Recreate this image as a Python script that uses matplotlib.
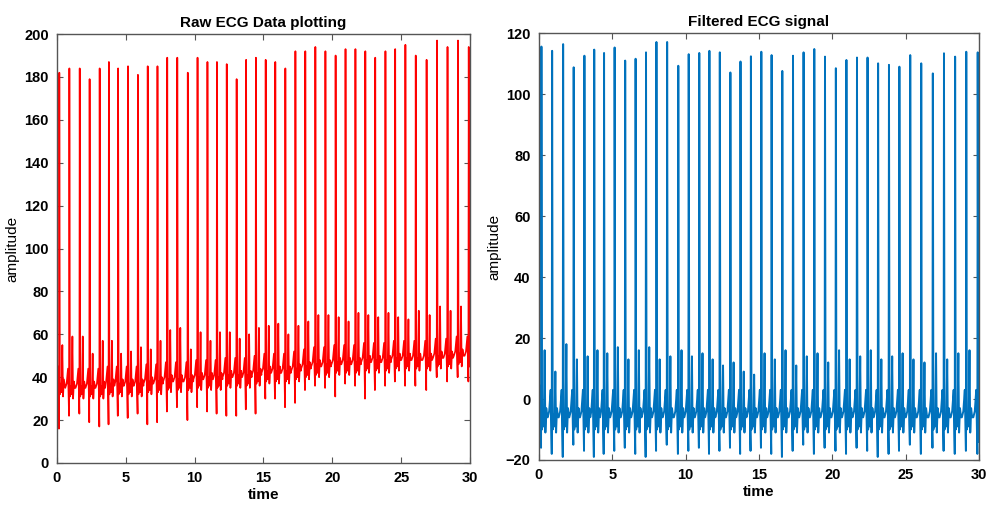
import numpy as np
import matplotlib
matplotlib.use("Agg")
import matplotlib.pyplot as plt

plt.rcParams['font.family'] = ['Liberation Sans', 'DejaVu Sans']

# beat (R peak) times in seconds
beat_t = [0.17, 0.90, 1.65, 2.37, 3.10, 3.77, 4.44, 5.16, 5.88, 6.59, 7.30, 8.01,
          8.74, 9.50, 10.21, 10.93, 11.62, 12.33, 13.05, 13.74, 14.45, 15.16,
          15.86, 16.59, 17.32, 18.04, 18.77, 19.50, 20.24, 20.96, 21.68, 22.40,
          23.12, 23.86, 24.57, 25.31, 26.06, 26.85, 27.61, 28.37, 29.13, 29.91]

# raw ECG: R peak, secondary peak, trough, baseline per beat
raw_r = [182, 184, 184, 179, 184, 187, 184, 185, 181, 185, 185, 189, 189, 182,
         189, 187, 187, 186, 179, 188, 189, 188, 187, 184, 192, 192, 194, 192,
         190, 193, 193, 192, 189, 192, 193, 195, 190, 188, 197, 194, 197, 194]
raw_sec = [55, 59, 59, 51, 57, 57, 51, 52, 54, 53, 57, 62, 63, 53, 61, 57, 61,
           61, 58, 60, 63, 64, 65, 60, 64, 66, 69, 69, 68, 66, 70, 69, 68, 70,
           68, 67, 71, 69, 73, 71, 73, 71]
raw_trough = [16, 22, 23, 19, 17, 18, 22, 21, 23, 18, 19, 24, 26, 20, 26, 24,
              23, 22, 22, 25, 23, 30, 30, 26, 28, 34, 36, 35, 31, 37, 36, 30,
              34, 36, 38, 36, 36, 34, 40, 38, 40, 38]
raw_base = [36, 35, 35, 35, 35, 36, 36, 36, 36, 37, 37, 38, 38, 38, 39, 39, 39,
            40, 40, 40, 41, 42, 42, 42, 43, 44, 45, 45, 46, 46, 46, 47, 47, 47,
            48, 48, 48, 48, 49, 49, 50, 50]

# filtered ECG: R peak, secondary peak, trough (baseline about -6)
filt_r = [115.6, 114.2, 116.4, 108.8, 112.6, 114.6, 113.5, 115.3, 111.0, 111.6,
          113.7, 117.1, 117.1, 109.3, 113.1, 113.5, 114.2, 113.7, 107.1, 110.7,
          112.4, 113.9, 112.8, 107.6, 112.6, 113.7, 114.8, 112.3, 108.5, 111.2,
          112.0, 112.0, 110.1, 109.6, 109.0, 112.8, 110.1, 106.8, 113.4, 112.3,
          113.9, 113.7]
filt_sec = [16, 9, 18, 13, 14, 16, 15, 17, 13, 16, 17, 13, 14, 16, 14, 15, 13,
            11, 12, 9, 8, 15, 13, 16, 11, 14, 15, 12, 16, 13, 14, 16, 13, 14, 15,
            13, 12, 15, 13, 15, 16, 14]
filt_trough = [-16, -18, -19, -15, -17, -19, -18, -17, -16, -18, -19, -17, -15,
               -18, -17, -16, -18, -17, -16, -18, -17, -16, -18, -19, -17, -15,
               -18, -16, -17, -18, -16, -17, -19, -18, -17, -15, -18, -16, -17,
               -18, -17, -18]
filt_base = -6

# one beat, offsets (s) from the R peak; 'b' = baseline + value, 'r' = R peak,
# 's' = trough, 'p' = secondary peak
beat_shape = [(-0.30, 'b', 0), (-0.20, 'b', 2), (-0.10, 'b', 9), (-0.06, 'b', -2),
              (-0.025, 's', 0), (0.0, 'r', 0), (0.04, 'b', -4), (0.10, 'b', 1),
              (0.16, 'b', -3), (0.22, 'p', 0), (0.27, 'b', -5), (0.33, 'b', 3),
              (0.40, 'b', 0)]


def build(r, sec, trough, base, start, end):
    tt = [0.0]
    yy = [start]
    for i, t0 in enumerate(beat_t):
        b = base[i] if hasattr(base, '__len__') else base
        for dt, kind, v in beat_shape:
            t = t0 + dt
            if t <= tt[-1] or t > 30:
                continue
            if kind == 'r':
                y = r[i]
            elif kind == 's':
                y = trough[i]
            elif kind == 'p':
                y = sec[i]
            else:
                y = b + v
            tt.append(t)
            yy.append(y)
    tt.append(30.0)
    yy.append(end)
    return np.array(tt), np.array(yy)


t_raw, y_raw = build(raw_r, raw_sec, raw_trough, raw_base, 40, 45)
t_filt, y_filt = build(filt_r, filt_sec, filt_trough, filt_base, 5, -14)

fig = plt.figure(figsize=(9.98, 5.18), dpi=100)
ax1 = fig.add_axes([0.0571, 0.1062, 0.4138, 0.828])
ax2 = fig.add_axes([0.540, 0.112, 0.441, 0.824])

ax1.plot(t_raw, y_raw, color='#ff0000', lw=1.2)
ax2.plot(t_filt, y_filt, color='#0072bd', lw=1.4)

ax1.set_ylim(0, 200)
ax1.set_yticks(range(0, 201, 20))
ax2.set_ylim(-20, 120)
ax2.set_yticks(range(-20, 121, 20))

for ax, title in [(ax1, 'Raw ECG Data plotting'), (ax2, 'Filtered ECG signal')]:
    ax.set_xlim(0, 30)
    ax.set_xticks(range(0, 31, 5))
    ax.set_title(title, fontsize=11, fontweight='bold', pad=5)
    ax.set_xlabel('time', fontsize=11, fontweight='bold', labelpad=2)
    ax.set_ylabel('amplitude', fontsize=11, labelpad=3)
    ax.tick_params(direction='in', top=True, right=True, length=4, width=0.8,
                   color='#555555', labelsize=10.5, pad=6)
    for lab in ax.get_xticklabels() + ax.get_yticklabels():
        lab.set_fontweight('bold')
    for sp in ax.spines.values():
        sp.set_color('#555555')
        sp.set_linewidth(1.0)

fig.savefig('out.png', dpi=100)
